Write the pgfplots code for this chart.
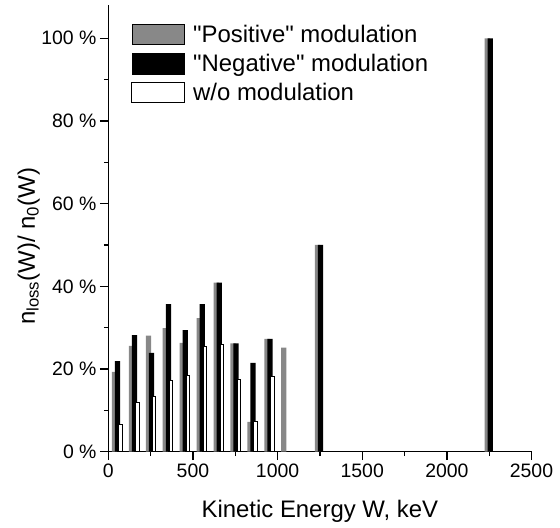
\documentclass[border=0pt]{standalone}
\usepackage{pgfplots}
\pgfplotsset{compat=1.18}
\usepackage{fontspec}
\setmainfont{Liberation Sans}
\definecolor{posgray}{HTML}{888888}

\begin{document}
\begin{tikzpicture}
\begin{axis}[
  scale only axis, width=423.2bp, height=446.7bp,
  xmin=0, xmax=2500, ymin=0, ymax=108.05,
  axis x line=bottom, axis y line=left,
  axis line style={-, line width=1.5bp},
  every tick/.style={black, line width=1.3bp},
  tick align=outside,
  major tick length=8.3bp, minor tick length=4.5bp,
  xtick={0,500,...,2500}, minor xtick={250,750,...,2250},
  ytick={0,20,...,100}, minor ytick={10,30,...,90},
  scaled ticks=false,
  /pgf/number format/1000 sep={},
  /pgf/number format/assume math mode=true,
  ticklabel style={font=\fontsize{19.5}{22}\selectfont},
  yticklabel={\pgfmathprintnumber{\tick}\ \%},
  xlabel={Kinetic Energy W, keV},
  ylabel={n\textsubscript{loss}(W)/ n\textsubscript{0}(W)},
  label style={font=\fontsize{24}{28}\selectfont},
  xlabel style={at={(axis description cs:0.5,-0.1478)}, anchor=base},
  ylabel style={at={(axis description cs:-0.1732,0.4594)}, anchor=base},
  legend style={draw=none, fill=none, inner sep=0pt,
    at={(axis description cs:0.0543,0.9604)}, anchor=north west,
    font=\fontsize{24}{28}\selectfont, row sep=6.3bp},
  legend cell align=left,
  legend image code/.code={\draw[#1] (0bp,-10.35bp) rectangle (52.7bp,10.35bp);
    \path (58.7bp,0bp);},
]
\addplot[ybar, bar shift=0pt, bar width=31, fill=posgray, draw=none] coordinates {
  (37,19.3) (137,25.6) (237,28.1) (337,29.9) (437,26.3) (537,32.3)
  (637,40.9) (737,26.2) (837,7.2) (937,27.3) (1037,25.2)
  (1236,50) (2238,100)};
\addlegendentry{\textquotedbl Positive\textquotedbl{} modulation}
\addplot[ybar, bar shift=0pt, bar width=31, fill=black, draw=none] coordinates {
  (55,21.9) (155,28.2) (255,23.9) (355,35.7) (455,29.4) (555,35.7)
  (655,40.9) (755,26.2) (855,21.5) (955,27.3)
  (1253,50) (2256,100)};
\addlegendentry{\textquotedbl Negative\textquotedbl{} modulation}
\addplot[ybar, bar shift=0pt, bar width=21, fill=white, draw=black, line width=1bp] coordinates {
  (71,6.7) (171,11.9) (271,13.4) (371,17.3) (471,18.5) (571,25.4)
  (671,26.0) (771,17.5) (871,7.2) (971,18.2)};
\addlegendentry{w/o modulation}
\end{axis}
\pgfresetboundingbox
\useasboundingbox (-108.3bp,-76.3bp) rectangle (451.7bp,451.7bp);
\end{tikzpicture}
\end{document}
